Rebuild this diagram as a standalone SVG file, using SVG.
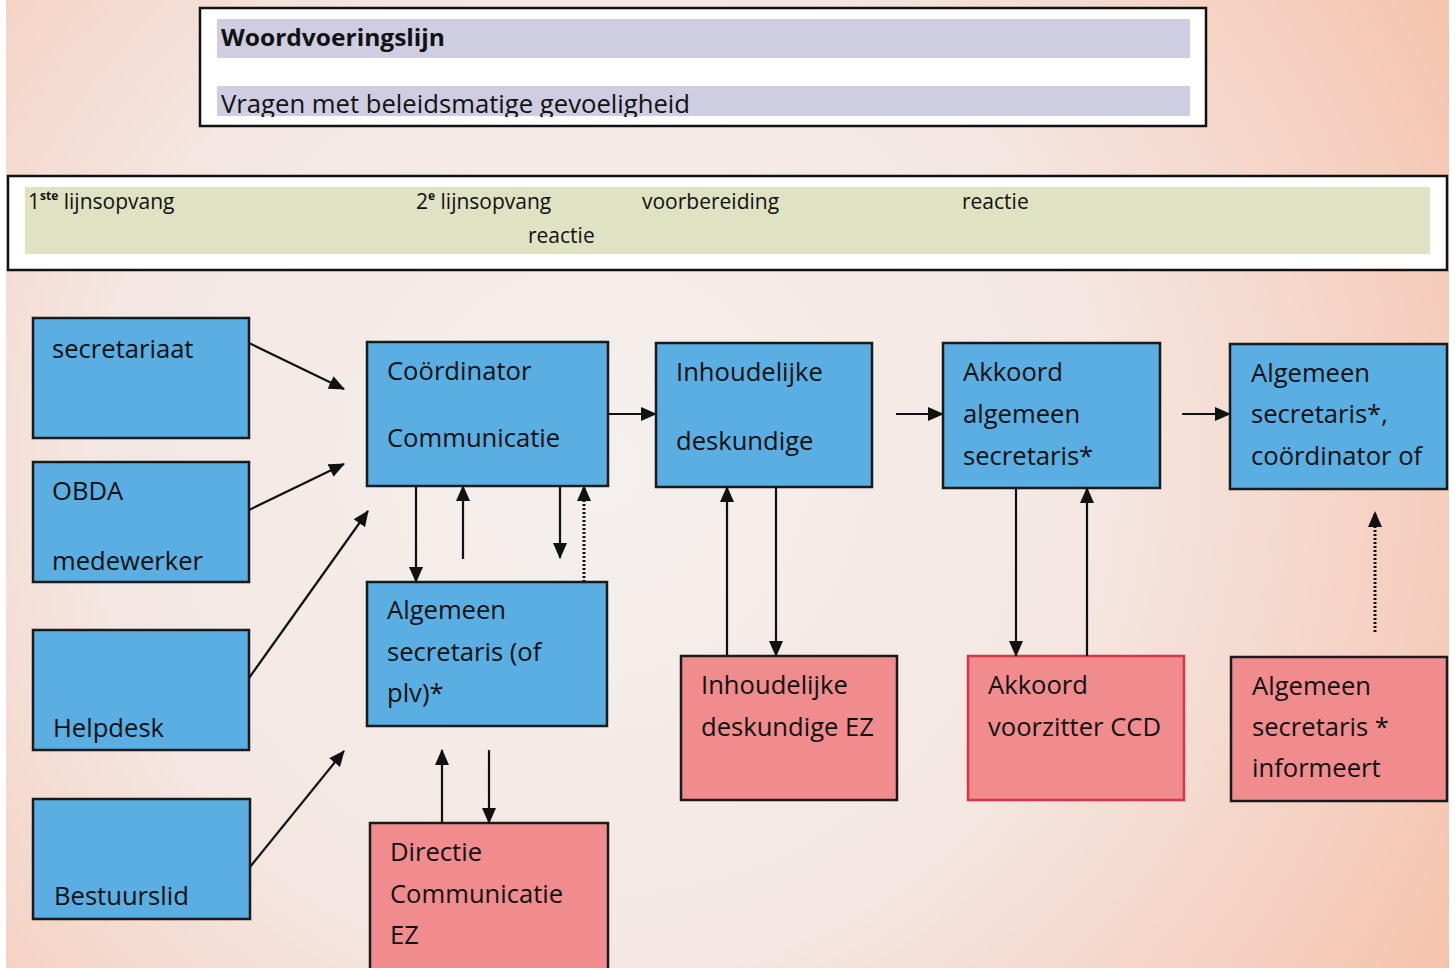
<svg xmlns="http://www.w3.org/2000/svg" width="1455" height="968" viewBox="0 0 1455 968">
<style>
text{font-family:"Open Sans","Noto Sans","Liberation Sans",sans-serif;fill:#111;}
.t{font-size:25.6px;}
.h{font-size:21px;}
.blue{fill:#5aaee2;stroke:#1a1a1a;stroke-width:2.5;}
.pink{fill:#f08c8e;stroke:#1a1a1a;stroke-width:2.5;}
.pinkr{fill:#f08c8e;stroke:#d8344a;stroke-width:2.5;}
.c{stroke:#111;stroke-width:2.2;fill:none;}
.d{stroke:#111;stroke-width:3;fill:none;stroke-dasharray:2 2;}
</style>
<defs>
<radialGradient id="bg" gradientUnits="userSpaceOnUse" cx="600" cy="470" r="990">
<stop offset="0" stop-color="#f4f0ee"/>
<stop offset="0.5" stop-color="#f4e7e2"/>
<stop offset="1" stop-color="#f5c2ac"/>
</radialGradient>
<marker id="ah" markerUnits="userSpaceOnUse" markerWidth="16" markerHeight="14" refX="15" refY="7" orient="auto">
<path d="M0,0 L16,7 L0,14 Z" fill="#111"/>
</marker>
<clipPath id="cl"><rect x="200" y="0" width="1010" height="117"/></clipPath>
</defs>
<rect x="0" y="0" width="1455" height="968" fill="#ffffff"/>
<rect x="6" y="0" width="1443" height="968" fill="url(#bg)"/>

<g id="header-woordvoering">
<rect x="200" y="8" width="1006" height="118" fill="#ffffff" stroke="#111" stroke-width="2.5"/>
<rect x="217" y="19" width="973" height="39" fill="#cfcde2"/>
<rect x="217" y="86" width="973" height="30" fill="#cfcde2"/>
<text x="221" y="46" style="font-size:24px;font-weight:bold;" textLength="224" lengthAdjust="spacingAndGlyphs">Woordvoeringslijn</text>
<text x="221" y="113" clip-path="url(#cl)" style="font-size:25px;" textLength="469" lengthAdjust="spacingAndGlyphs">Vragen met beleidsmatige gevoeligheid</text>
</g>

<g id="header-fases">
<rect x="8" y="176" width="1439" height="94" fill="#ffffff" stroke="#111" stroke-width="2.5"/>
<rect x="25" y="187" width="1405" height="67" fill="#dfe3c3"/>
<text x="28" y="209" class="h">1<tspan dy="-9" style="font-size:12px;font-weight:bold;">ste</tspan><tspan dy="9"> lijnsopvang</tspan></text>
<text x="416" y="209" class="h">2<tspan dy="-9" style="font-size:12px;font-weight:bold;">e</tspan><tspan dy="9"> lijnsopvang</tspan></text>
<text x="642" y="209" class="h">voorbereiding</text>
<text x="962" y="209" class="h">reactie</text>
<text x="528" y="243" class="h">reactie</text>
</g>

<g id="n-secretariaat">
<rect class="blue" x="33" y="318" width="216" height="120"/>
<text class="t" x="52" y="358">secretariaat</text>
</g>
<g id="n-obda">
<rect class="blue" x="33" y="462" width="216" height="120"/>
<text class="t" x="52" y="500">OBDA</text>
<text class="t" x="52" y="570">medewerker</text>
</g>
<g id="n-helpdesk">
<rect class="blue" x="33" y="630" width="216" height="120"/>
<text class="t" x="53" y="737">Helpdesk</text>
</g>
<g id="n-bestuurslid">
<rect class="blue" x="33" y="799" width="217" height="120"/>
<text class="t" x="54" y="905">Bestuurslid</text>
</g>

<g id="n-coordinator">
<rect class="blue" x="367" y="342" width="241" height="144"/>
<text class="t" x="387" y="380">Coördinator</text>
<text class="t" x="387" y="447">Communicatie</text>
</g>
<g id="n-algsec-plv">
<rect class="blue" x="367" y="582" width="240" height="144"/>
<text class="t" x="387" y="619">Algemeen</text>
<text class="t" x="387" y="661">secretaris (of</text>
<text class="t" x="387" y="702">plv)*</text>
</g>
<g id="n-directie">
<rect class="pink" x="370" y="823" width="238" height="150"/>
<text class="t" x="390" y="861">Directie</text>
<text class="t" x="390" y="903">Communicatie</text>
<text class="t" x="390" y="944">EZ</text>
</g>

<g id="n-inhoudelijke">
<rect class="blue" x="656" y="343" width="216" height="144"/>
<text class="t" x="676" y="381">Inhoudelijke</text>
<text class="t" x="676" y="450">deskundige</text>
</g>
<g id="n-inhoudelijke-ez">
<rect class="pink" x="681" y="656" width="216" height="144"/>
<text class="t" x="701" y="694">Inhoudelijke</text>
<text class="t" x="701" y="736">deskundige EZ</text>
</g>

<g id="n-akkoord-as">
<rect class="blue" x="943" y="343" width="217" height="145"/>
<text class="t" x="963" y="381">Akkoord</text>
<text class="t" x="963" y="423">algemeen</text>
<text class="t" x="963" y="465">secretaris*</text>
</g>
<g id="n-akkoord-ccd">
<rect class="pinkr" x="968" y="656" width="216" height="144"/>
<text class="t" x="988" y="694">Akkoord</text>
<text class="t" x="988" y="736">voorzitter CCD</text>
</g>

<g id="n-reactie">
<rect class="blue" x="1230" y="344" width="217" height="145"/>
<text class="t" x="1251" y="382">Algemeen</text>
<text class="t" x="1251" y="423">secretaris*,</text>
<text class="t" x="1251" y="465">coördinator of</text>
</g>
<g id="n-informeert">
<rect class="pink" x="1231" y="657" width="216" height="144"/>
<text class="t" x="1252" y="695">Algemeen</text>
<text class="t" x="1252" y="736">secretaris *</text>
<text class="t" x="1252" y="777">informeert</text>
</g>

<g id="connectors">
<line class="c" x1="249" y1="343" x2="344" y2="389" marker-end="url(#ah)"/>
<line class="c" x1="249" y1="510" x2="344" y2="464" marker-end="url(#ah)"/>
<line class="c" x1="249" y1="678" x2="368" y2="511" marker-end="url(#ah)"/>
<line class="c" x1="250" y1="867" x2="344" y2="751" marker-end="url(#ah)"/>
<line class="c" x1="608" y1="414" x2="656" y2="414" marker-end="url(#ah)"/>
<line class="c" x1="896" y1="414" x2="943" y2="414" marker-end="url(#ah)"/>
<line class="c" x1="1182" y1="414" x2="1230" y2="414" marker-end="url(#ah)"/>
<line class="c" x1="416" y1="486" x2="416" y2="582" marker-end="url(#ah)"/>
<line class="c" x1="463" y1="559" x2="463" y2="486" marker-end="url(#ah)"/>
<line class="c" x1="560" y1="486" x2="560" y2="558" marker-end="url(#ah)"/>
<line class="d" x1="584" y1="582" x2="584" y2="486" marker-end="url(#ah)"/>
<line class="c" x1="442" y1="823" x2="442" y2="750" marker-end="url(#ah)"/>
<line class="c" x1="489" y1="750" x2="489" y2="823" marker-end="url(#ah)"/>
<line class="c" x1="727" y1="656" x2="727" y2="487" marker-end="url(#ah)"/>
<line class="c" x1="776" y1="487" x2="776" y2="656" marker-end="url(#ah)"/>
<line class="c" x1="1016" y1="488" x2="1016" y2="656" marker-end="url(#ah)"/>
<line class="c" x1="1087" y1="656" x2="1087" y2="488" marker-end="url(#ah)"/>
<line class="d" x1="1375" y1="632" x2="1375" y2="512" marker-end="url(#ah)"/>
</g>
</svg>
